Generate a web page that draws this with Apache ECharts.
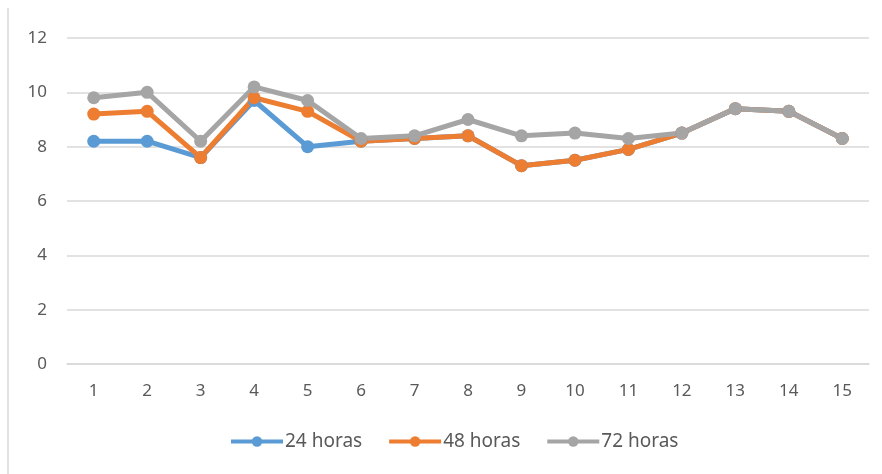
<!DOCTYPE html>
<html>
<head>
<meta charset="utf-8">
<script src="https://cdn.jsdelivr.net/npm/echarts@6/dist/echarts.min.js"></script>
<style>
html, body { margin: 0; padding: 0; background: #fff; }
#chart { width: 882px; height: 474px; }
</style>
</head>
<body>
<div id="chart"></div>
<script>
var categories = ['1', '2', '3', '4', '5', '6', '7', '8', '9', '10', '11', '12', '13', '14', '15'];
var horas24 = [8.2, 8.2, 7.6, 9.7, 8.0, 8.2, 8.3, 8.4, 7.3, 7.5, 7.9, 8.5, 9.4, 9.3, 8.3];
var horas48 = [9.2, 9.3, 7.6, 9.8, 9.3, 8.2, 8.3, 8.4, 7.3, 7.5, 7.9, 8.5, 9.4, 9.3, 8.3];
var horas72 = [9.8, 10.0, 8.2, 10.2, 9.7, 8.3, 8.4, 9.0, 8.4, 8.5, 8.3, 8.5, 9.4, 9.3, 8.3];
var seriesNames = ['24 horas', '48 horas', '72 horas'];

var myChart = echarts.init(document.getElementById('chart'));

function makeSeries(name, data, color) {
    return {
        name: name,
        type: 'line',
        data: data,
        symbol: 'circle',
        symbolSize: 13,
        lineStyle: { color: color, width: 5 },
        itemStyle: { color: color },
        emphasis: { disabled: true }
    };
}

var option = {
    animation: false,
    color: ['#5B9BD5', '#ED7D31', '#A5A5A5'],
    textStyle: { fontFamily: 'Noto Sans' },
    grid: { left: 67, right: 13, top: 38, bottom: 110 },
    legend: {
        data: seriesNames,
        bottom: 18,
        left: 224,
        itemWidth: 52,
        itemHeight: 13,
        itemGap: 25,
        lineStyle: { width: 4 },
        textStyle: { color: '#595959', fontSize: 19, padding: [0, 0, 0, -3] }
    },
    xAxis: {
        type: 'category',
        data: categories,
        boundaryGap: true,
        axisLine: { show: true, lineStyle: { color: '#D9D9D9', width: 1.5 } },
        axisTick: { show: false },
        axisLabel: { color: '#595959', fontSize: 17, margin: 19 }
    },
    yAxis: {
        type: 'value',
        min: 0,
        max: 12,
        interval: 2,
        axisLine: { show: false },
        axisTick: { show: false },
        axisLabel: { color: '#595959', fontSize: 17, margin: 20 },
        splitLine: { lineStyle: { color: '#D9D9D9', width: 1.5 } }
    },
    graphic: [{
        type: 'line',
        shape: { x1: 8, y1: 8, x2: 8, y2: 474 },
        style: { stroke: '#D9D9D9', lineWidth: 1.5 }
    }],
    series: [
        makeSeries(seriesNames[0], horas24, '#5B9BD5'),
        makeSeries(seriesNames[1], horas48, '#ED7D31'),
        makeSeries(seriesNames[2], horas72, '#A5A5A5')
    ]
};

myChart.setOption(option);
</script>
</body>
</html>
